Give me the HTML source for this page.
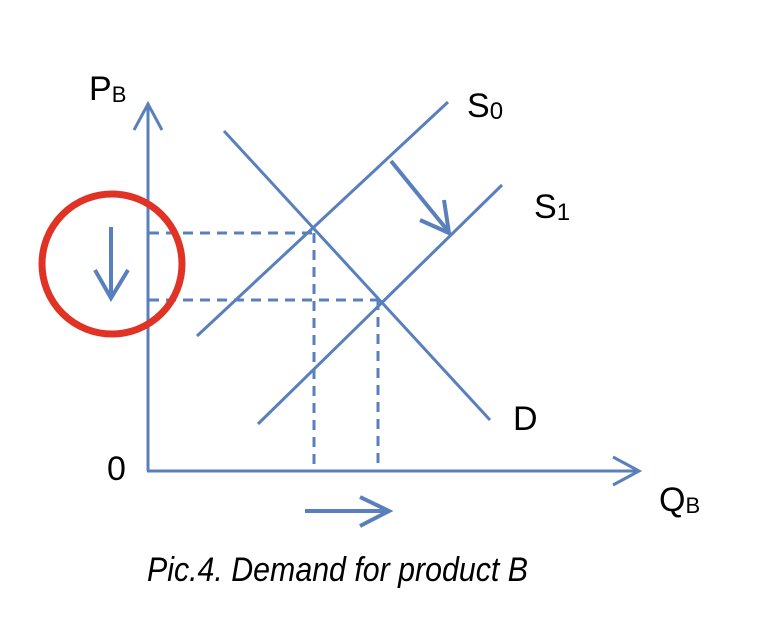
<!DOCTYPE html>
<html><head><style>html,body{margin:0;padding:0;background:#fff}</style></head><body>
<svg width="764" height="634" viewBox="0 0 764 634" xmlns="http://www.w3.org/2000/svg" font-family="Liberation Sans, sans-serif">
<g stroke="#5a7fbd" stroke-width="3" fill="none" stroke-linecap="butt">
<line x1="148" y1="103" x2="148" y2="471"/>
<polyline points="134,130 148,104 162,130"/>
<line x1="147" y1="471" x2="639" y2="471"/>
<polyline points="613,457 639,471 613,485"/>
<line x1="224" y1="131" x2="490" y2="420"/>
<line x1="197" y1="336" x2="448" y2="102"/>
<line x1="258" y1="424" x2="502" y2="185"/>
<g stroke-dasharray="10,7">
<line x1="149" y1="233" x2="314" y2="233"/>
<line x1="149" y1="300" x2="378" y2="300"/>
<line x1="314" y1="233" x2="314" y2="470"/>
<line x1="378" y1="300" x2="378" y2="470"/>
</g>
<g stroke-width="4">
<line x1="391" y1="161" x2="448" y2="231"/>
<polyline points="420,220 449,233 444,200"/>
<line x1="111" y1="227" x2="111" y2="296"/>
<polyline points="95,270 111,298 128,270"/>
<line x1="305" y1="511" x2="388" y2="511"/>
<polyline points="360,497 389,511 360,526"/>
</g>
</g>
<circle cx="112" cy="264" r="70" fill="none" stroke="#e03326" stroke-width="7"/>
<g fill="#000" font-size="34">
<text x="89" y="100">P<tspan font-size="22" dy="2">B</tspan></text>
<text x="467" y="117">S<tspan font-size="24" dy="2">0</tspan></text>
<text x="534" y="218">S<tspan font-size="24" dy="2">1</tspan></text>
<text x="513" y="430">D</text>
<text x="107" y="480">0</text>
<text x="659" y="511">Q<tspan font-size="22" dy="2">B</tspan></text>
</g>
<text x="147" y="581" font-size="34" font-style="italic" textLength="381" lengthAdjust="spacingAndGlyphs" fill="#000">Pic.4. Demand for product B</text>
</svg>
</body></html>
